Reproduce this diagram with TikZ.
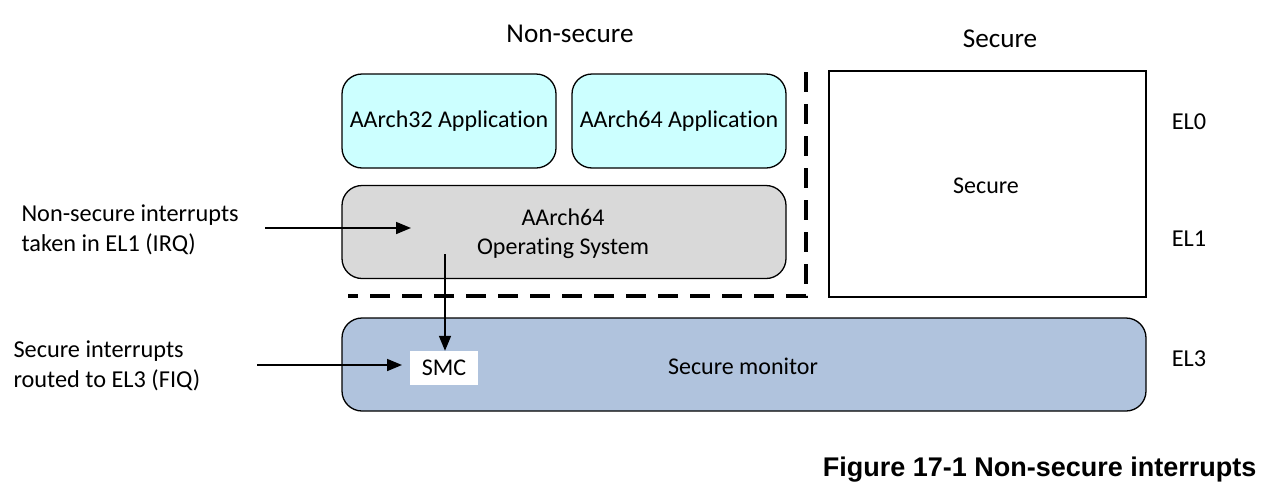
\documentclass[tikz,border=0pt]{standalone}
\usepackage{fontspec}
\setmainfont{Carlito}[Ligatures=NoCommon, RawFeature={-liga;-clig;-dlig}]
\newfontfamily\capfont{Liberation Sans}
\usetikzlibrary{arrows.meta}
\definecolor{appcyan}{HTML}{CCFFFF}
\definecolor{osgray}{HTML}{D9D9D9}
\definecolor{monblue}{HTML}{B0C3DD}
\tikzset{
  rbox/.style={draw, line width=1.3pt, rounded corners=20pt, minimum width=214pt, minimum height=94pt, font=\fontsize{24}{29}\selectfont, align=center},
  lbl/.style={font=\fontsize{24.3}{29.5}\selectfont, align=left},
  hdr/.style={font=\fontsize{27.2}{30}\selectfont},
  arr/.style={line width=1.6pt, -{Triangle[length=15pt,width=12pt]}}
}
\begin{document}
\begin{tikzpicture}[x=1pt,y=-1pt]
        \useasboundingbox (0,0) rectangle (1268,501);
        % headings
        \node[hdr] (nshdr) at (570,34) {Non-secure};
        \node[hdr] (shdr) at (1000,39) {Secure};
        % non-secure side
        \node[rbox, fill=appcyan] (app32) at (449,121) {AArch32 Application};
        \node[rbox, fill=appcyan] (app64) at (679,121) {AArch64 Application};
        \node[rbox, fill=osgray, minimum width=444pt, minimum height=93pt] (os) at (564,232) {};
        \node[font=\fontsize{24}{29}\selectfont, align=center] (ostxt) at (563,234) {AArch64\\Operating System};
        \draw [line width=3.5pt, dash pattern=on 20pt off 12pt] (806,72) -- (806,296) -- (348,296);
        % secure side
        \node[draw, line width=1.3pt, minimum width=317pt, minimum height=226pt] (sec) at (987.5,184) {};
        \node[font=\fontsize{24}{29}\selectfont] (sectxt) at (986,186) {Secure};
        % monitor
        \node[rbox, fill=monblue, minimum width=804pt, minimum height=93pt] (mon) at (744,364.5) {};
        \node[font=\fontsize{24}{29}\selectfont] (montxt) at (743,366) {Secure monitor};
        \node[fill=white, minimum width=68pt, minimum height=34pt, inner sep=0pt, font=\fontsize{24}{29}\selectfont] (smc) at (444,368) {SMC};
        % levels
        \node[lbl] (el0) at (1189,122) {EL0};
        \node[lbl] (el1) at (1189,239) {EL1};
        \node[lbl] (el3) at (1189,359) {EL3};
        % interrupts
        \node[lbl, anchor=west] (irq) at (18,230) {Non-secure interrupts\\taken in EL1 (IRQ)};
        \node[lbl, anchor=west] (fiq) at (10,366) {Secure interrupts\\routed to EL3 (FIQ)};
        \coordinate (irqin) at (265,228);\coordinate (irqend) at (411,228);
        \coordinate (fiqin) at (257,365);\coordinate (fiqend) at (402,365);
        \coordinate (ossmc) at (445,254);
        \draw [arr] (irqin) -- (irqend);
        \draw [arr] (fiqin) -- (fiqend);
        \draw [arr] (ossmc) -- (ossmc |- smc.north);
        % caption
        \node[anchor=east, font=\capfont\bfseries\fontsize{27}{30}\selectfont] (cap) at (1260,470) {Figure 17-1 Non-secure interrupts};
    \end{tikzpicture}
\end{document}
